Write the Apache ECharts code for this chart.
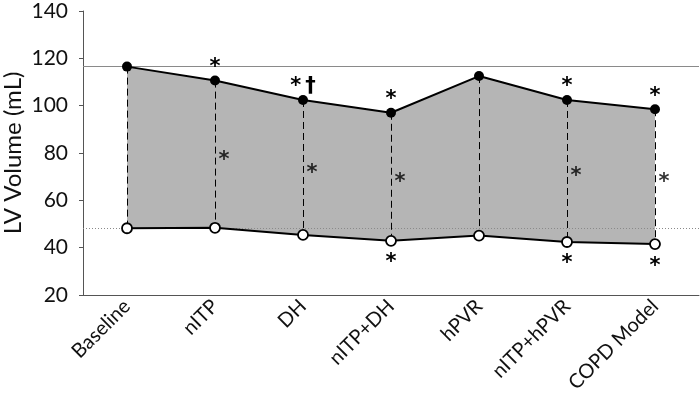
<!DOCTYPE html>
<html><head><meta charset="utf-8">
<script src="https://cdn.jsdelivr.net/npm/echarts@6/dist/echarts.min.js"></script>
<style>html,body{margin:0;padding:0;background:#fff}#c{width:700px;height:400px}</style>
</head><body><div id="c"></div>
<script>
const categories = ['Baseline','nITP','DH','nITP+DH','hPVR','nITP+hPVR','COPD Model'];
const upper = [116.5, 110.6, 102.4, 97.0, 112.5, 102.4, 98.5];
const lower = [48.2, 48.4, 45.4, 42.9, 45.1, 42.4, 41.5];
const upperMarks = ['', '*', '*\u2009\u2020', '*', '', '*', '*'];
const midMarks = ['', '*', '*', '*', '', '*', '*'];
const lowerMarks = ['', '', '', '*', '', '*', '*'];
const yTicks = [20, 40, 60, 80, 100, 120, 140];
const refUpper = upper[0];
const refLower = lower[0];

const FONT = 'Lato';
const MARKFONT = 'DejaVu Sans';
const chart = echarts.init(document.getElementById('c'));
chart.setOption({
  animation: false,
  backgroundColor: '#fff',
  textStyle: {fontFamily: FONT},
  grid: {left: 83, right: 1, top: 11, bottom: 105, containLabel: false, outerBoundsMode: 'none'},
  xAxis: {
    type: 'category', data: categories, boundaryGap: true,
    axisLine: {lineStyle: {color: '#555', width: 1}},
    axisTick: {alignWithLabel: true, length: 5, lineStyle: {color: '#555'}},
    axisLabel: {rotate: 45, margin: 8, fontSize: 20, color: '#111', fontFamily: FONT}
  },
  yAxis: {
    type: 'value', min: yTicks[0], max: yTicks[yTicks.length-1], interval: 20,
    name: 'LV Volume (mL)', nameLocation: 'middle', nameRotate: 90, nameGap: 58,
    nameMoveOverlap: false,
    nameTextStyle: {fontSize: 24, color: '#111', fontFamily: FONT},
    splitLine: {show: false},
    axisLine: {show: true, lineStyle: {color: '#555', width: 1}},
    axisTick: {show: true, length: 4, lineStyle: {color: '#555'}},
    axisLabel: {fontSize: 21, color: '#111', margin: 15, fontFamily: FONT}
  },
  series: [
    {
      type: 'custom', z: 1, silent: true,
      data: [0],
      renderItem: function (params, api) {
        const pts = [];
        for (let i = 0; i < upper.length; i++) pts.push(api.coord([i, upper[i]]));
        for (let i = lower.length - 1; i >= 0; i--) pts.push(api.coord([i, lower[i]]));
        return {type: 'polygon', shape: {points: pts}, style: {fill: '#b5b5b5'}};
      },
      markLine: {
        silent: true, symbol: 'none', label: {show: false},
        data: [
          {yAxis: refUpper, lineStyle: {type: 'solid', color: '#8a8a8a', width: 1}},
          {yAxis: refLower, lineStyle: {type: [1, 2], color: '#8a8a8a', width: 1}}
        ]
      }
    },
    {
      type: 'custom', z: 2, silent: true,
      data: categories.map((c, i) => [i, upper[i], lower[i]]),
      renderItem: function (params, api) {
        const a = api.coord([api.value(0), api.value(1)]);
        const b = api.coord([api.value(0), api.value(2)]);
        return {type: 'line', shape: {x1: Math.round(a[0]) + 0.5, y1: a[1], x2: Math.round(b[0]) + 0.5, y2: b[1]},
          style: {stroke: '#000', lineWidth: 1, lineDash: [7, 4]}};
      }
    },
    {
      type: 'line', z: 5, data: upper, symbol: 'circle', symbolSize: 10,
      lineStyle: {color: '#000', width: 2}, itemStyle: {color: '#000'},
      label: {show: true, position: 'inside', offset: [0, -13], fontSize: 21, color: '#000',
        fontFamily: MARKFONT, fontWeight: 'bold', formatter: p => upperMarks[p.dataIndex]}
    },
    {
      type: 'line', z: 5, data: lower, symbol: 'circle', symbolSize: 10,
      lineStyle: {color: '#000', width: 2},
      itemStyle: {color: '#fff', borderColor: '#000', borderWidth: 1.8},
      label: {show: true, position: 'inside', offset: [0, 22], fontSize: 21, color: '#000',
        fontFamily: MARKFONT, fontWeight: 'bold', formatter: p => lowerMarks[p.dataIndex]}
    },
    {
      type: 'scatter', z: 6, symbolSize: 0, silent: true,
      data: categories.map((c, i) => [i, (upper[i] + lower[i]) / 2]),
      label: {show: true, position: 'inside', offset: [9, 6], fontSize: 21, color: '#000',
        fontFamily: MARKFONT, fontWeight: 'bold', formatter: p => midMarks[p.dataIndex]}
    }
  ]
});
</script></body></html>
